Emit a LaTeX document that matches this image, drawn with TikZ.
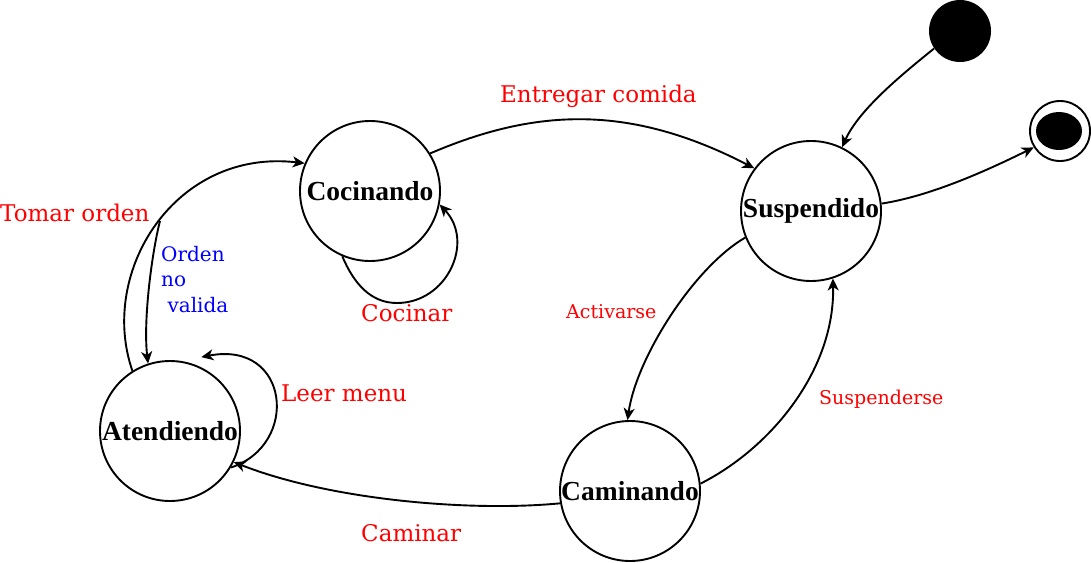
\documentclass[tikz,border=0pt]{standalone}
\usepackage{fontspec}
\setmainfont{Liberation Serif}
\newfontfamily\lblfont{DejaVu Serif}
\usetikzlibrary{arrows.meta,shapes.geometric}
\tikzset{
  state/.style={circle, draw, line width=1.9pt, minimum size=140pt, inner sep=0pt,
    font=\fontsize{27.5}{30}\selectfont\bfseries},
  edge/.style={line width=1.9pt, -{Stealth[length=12pt,width=11pt,inset=3.5pt]}},
  lbl/.style={text=red, font=\lblfont\fontsize{23}{27}\selectfont, inner sep=0pt, anchor=base west},
  slbl/.style={text=red, font=\lblfont\fontsize{19}{23}\selectfont, inner sep=0pt, anchor=base west},
  blbl/.style={text=blue, font=\lblfont\fontsize{20}{25.5}\selectfont, inner sep=0pt, anchor=north west, align=left},
}
\begin{document}
\begin{tikzpicture}[x=1pt, y=-1pt]
\useasboundingbox (0,0) rectangle (1091,562);
\node[state] (coc) at (370,191) {Cocinando};
\node[state] (sus) at (811,211) {Suspendido};
\node[state] (ate) at (170,431) {Atendiendo};
\node[state] (cam) at (630,491) {Caminando};
\node[circle, fill=black, minimum size=62pt, inner sep=0pt] (ini) at (960,31) {};
\node[circle, draw, line width=1.9pt, minimum size=60pt, inner sep=0pt] (fin) at (1060,131) {};
\node[ellipse, fill=black, minimum width=46pt, minimum height=38pt, inner sep=0pt] (finin) at (1059,131) {};
\coordinate (onv) at (160,221);

% Entregar comida
\draw[edge] (coc.32) .. controls (536,108) and (630,104) .. (sus.143);
% initial
\draw[edge] (ini.214) .. controls (905,72) and (859,109) .. (sus.64);
% final
\draw[edge] (sus.6) .. controls (931,196) and (988,170) .. (fin.212);
% Activarse
\draw[edge] (sus.202) .. controls (693,268) and (636,359) .. (cam.92);
% Suspenderse
\draw[edge] (cam.6) .. controls (771,448) and (835,370) .. (sus.288);
% Caminar
\draw[edge] (cam.190) .. controls (470,512) and (330,500) .. (ate.334);
% Tomar orden
\draw[edge] (ate.122) .. controls (98,272) and (175,148) .. (coc.157);
% Orden no valida
\draw[edge] (onv) .. controls (152,252) and (143,320) .. (ate.108);
% Cocinar loop
\draw[edge] (coc.247) .. controls (354,284) and (371,303) .. (397,303)
  .. controls (447,303) and (475,242) .. (coc.349);
% Leer menu loop
\draw[edge] (ate.329) .. controls (300,445) and (290,340) .. ([xshift=3.6pt,yshift=8.6pt]ate.67);

\node[lbl] (l1) at (500,102) {Entregar comida};
\node[lbl] (l2) at (0,221) {Tomar orden};
\node[lbl] (l3) at (361,321) {Cocinar};
\node[lbl] (l4) at (281,401) {Leer menu};
\node[lbl] (l5) at (361,541) {Caminar};
\node[slbl] (l6) at (566,318) {Activarse};
\node[slbl] (l7) at (819,404) {Suspenderse};
\node[blbl] (l8) at (161,246) {Orden\\no\\ \ valida};
\end{tikzpicture}
\end{document}
